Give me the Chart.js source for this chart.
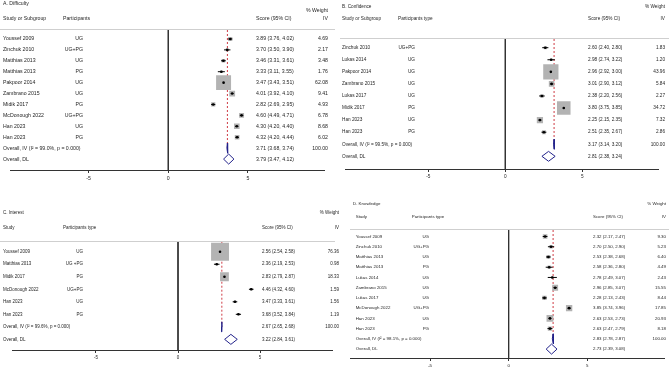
<!DOCTYPE html>
<html>
<head>
<meta charset="utf-8">
<script src="https://cdn.jsdelivr.net/npm/chart.js@4.4.1/dist/chart.umd.min.js"></script>
<style>
  html, body { margin: 0; padding: 0; background: #fff; }
  #wrap { position: relative; width: 669px; height: 368px; overflow: hidden; }
  #wrap canvas { position: absolute; }
</style>
</head>
<body>
<div id="wrap">
  <canvas id="pA" width="335" height="186" style="left:0;top:0"></canvas>
  <canvas id="pB" width="334" height="186" style="left:335px;top:0"></canvas>
  <canvas id="pC" width="345" height="173" style="left:0;top:195px"></canvas>
  <canvas id="pD" width="334" height="173" style="left:335px;top:195px"></canvas>
</div>
<script>
/* forest plots: difficulty / confidence / interest / knowledge */
const xTicks = [-5, 0, 5];

// A. Difficulty
const diffStudies = ['Youssef 2009', 'Zinchuk 2010', 'Matthias 2013', 'Matthias 2013', 'Pakpoor 2014', 'Zambrano 2015', 'Midik 2017', 'McDonough 2022', 'Han 2023', 'Han 2023'];
const diffGroups  = ['UG', 'UG+PG', 'UG', 'PG', 'UG', 'UG', 'PG', 'UG+PG', 'UG', 'PG'];
const diffScore   = [3.89, 3.70, 3.46, 3.33, 3.47, 4.01, 2.82, 4.60, 4.30, 4.32];
const diffLow     = [3.76, 3.50, 3.31, 3.11, 3.43, 3.92, 2.69, 4.49, 4.20, 4.20];
const diffHigh    = [4.02, 3.90, 3.61, 3.55, 3.51, 4.10, 2.95, 4.71, 4.40, 4.44];
const diffWeight  = [4.69, 2.17, 3.48, 1.76, 62.08, 9.41, 4.93, 6.78, 8.68, 6.02];
const diffIV = [3.71, 3.68, 3.74];
const diffDL = [3.79, 3.47, 4.12];
const diffI2 = '99.0%';

// B. Confidence
const confStudies = ['Zinchuk 2010', 'Lukas 2014', 'Pakpoor 2014', 'Zambrano 2015', 'Lukas 2017', 'Midik 2017', 'Han 2023', 'Han 2023'];
const confGroups  = ['UG+PG', 'UG', 'UG', 'UG', 'UG', 'PG', 'UG', 'PG'];
const confScore   = [2.60, 2.98, 2.96, 3.01, 2.38, 3.80, 2.25, 2.51];
const confLow     = [2.40, 2.74, 2.92, 2.90, 2.20, 3.75, 2.15, 2.35];
const confHigh    = [2.80, 3.22, 3.00, 3.12, 2.56, 3.85, 2.35, 2.67];
const confWeight  = [1.83, 1.20, 43.96, 5.84, 2.27, 34.72, 7.32, 2.86];
const confIV = [3.17, 3.14, 3.20];
const confDL = [2.81, 2.38, 3.24];
const confI2 = '99.5%';

// C. Interest
const intStudies = ['Youssef 2009', 'Matthias 2013', 'Midik 2017', 'McDonough 2022', 'Han 2023', 'Han 2023'];
const intGroups  = ['UG', 'UG +PG', 'PG', 'UG+PG', 'UG', 'PG'];
const intScore   = [2.56, 2.36, 2.83, 4.46, 3.47, 3.68];
const intLow     = [2.54, 2.19, 2.79, 4.32, 3.33, 3.52];
const intHigh    = [2.58, 2.53, 2.87, 4.60, 3.61, 3.84];
const intWeight  = [76.36, 0.98, 18.33, 1.59, 1.56, 1.19];
const intIV = [2.67, 2.65, 2.68];
const intDL = [3.22, 2.84, 3.61];
const intI2 = '99.6%';

// D. Knowledge
const knowStudies = ['Youssef 2009', 'Zinchuk 2010', 'Matthias 2013', 'Matthias 2013', 'Lukas 2014', 'Zambrano 2015', 'Lukas 2017', 'McDonough 2022', 'Han 2023', 'Han 2023'];
const knowGroups  = ['UG', 'UG+PG', 'UG', 'PG', 'UG', 'UG', 'UG', 'UG+PG', 'UG', 'PG'];
const knowScore   = [2.32, 2.70, 2.53, 2.58, 2.78, 2.96, 2.28, 3.85, 2.63, 2.63];
const knowLow     = [2.17, 2.50, 2.38, 2.36, 2.49, 2.85, 2.13, 3.74, 2.53, 2.47];
const knowHigh    = [2.47, 2.90, 2.68, 2.80, 3.07, 3.07, 2.43, 3.96, 2.73, 2.79];
const knowWeight  = [9.30, 5.23, 6.40, 4.49, 2.43, 15.55, 8.44, 17.85, 20.93, 8.18];
const knowIV = [2.83, 2.78, 2.87];
const knowDL = [2.73, 2.39, 3.08];
const knowI2 = '98.1%';

const FONT = '"Liberation Sans", Arial, sans-serif';
const INK = '#1f1f1f';

const fmt = (e, lo, hi) => e.toFixed(2) + ' (' + lo.toFixed(2) + ', ' + hi.toFixed(2) + ')';

function textPlugin(p) {
  return {
    id: 'forestText',
    afterDraw(chart) {
      const ctx = chart.ctx, ys = chart.scales.y, L = p.lay;
      ctx.save();
      ctx.fillStyle = INK;
      ctx.font = p.lay.fs + 'px ' + FONT;
      ctx.textBaseline = 'middle';
      const put = (s, x, y, align) => { ctx.textAlign = align || 'left'; ctx.fillText(s, x, y); };
      put(p.title, L.titleX, L.titleY);
      put('% Weight', L.wCol, L.wHdrY, 'right');
      put(p.studyHdr, L.sCol, L.hdrY);
      put(p.partHdr, L.pHdr, L.hdrY);
      put('Score (95% CI)', L.cCol, L.hdrY);
      put('IV', L.wCol, L.hdrY, 'right');
      // divider under headers
      ctx.strokeStyle = '#cfcfcf';
      ctx.lineWidth = 1;
      ctx.beginPath();
      ctx.moveTo(L.divX0, L.divY + 0.5);
      ctx.lineTo(L.divX1, L.divY + 0.5);
      ctx.stroke();
      const n = p.studies.length;
      p.studies.forEach((s, i) => {
        const y = ys.getPixelForValue(i);
        put(s, L.sCol, y);
        put(p.groups[i], L.pCol, y, 'right');
        put(fmt(p.score[i], p.low[i], p.high[i]), L.cCol, y);
        put(p.weight[i].toFixed(2), L.wCol, y, 'right');
      });
      let y = ys.getPixelForValue(n);
      put('Overall, IV (I\u00b2 = ' + p.i2 + ', p = 0.000)', L.sCol, y);
      put(fmt(p.iv[0], p.iv[1], p.iv[2]), L.cCol, y);
      put('100.00', L.wCol, y, 'right');
      y = ys.getPixelForValue(n + 1);
      put('Overall, DL', L.sCol, y);
      put(fmt(p.dl[0], p.dl[1], p.dl[2]), L.cCol, y);
      ctx.restore();
    }
  };
}

function makePanel(id, p) {
  const L = p.lay;
  const n = p.studies.length;
  const rowIV = n, rowDL = n + 1;

  const ciPts = [];
  p.low.forEach((lo, i) => { ciPts.push({ x: lo, y: i }, { x: p.high[i], y: i }, { x: p.high[i], y: null }); });
  const diamond = (v, r) => [
    { x: v[1], y: r }, { x: v[0], y: r - L.dh }, { x: v[2], y: r }, { x: v[0], y: r + L.dh }, { x: v[1], y: r }, { x: v[1], y: null }
  ];
  const lineStyle = { showLine: true, pointRadius: 0, borderWidth: 1, spanGaps: false, fill: false };

  return new Chart(document.getElementById(id), {
    type: 'scatter',
    data: {
      datasets: [
        { ...lineStyle, data: [{ x: 0, y: L.yMin }, { x: 0, y: L.yMax }], borderColor: '#333', order: 6 },
        { ...lineStyle, data: [{ x: p.iv[0], y: L.yMin }, { x: p.iv[0], y: rowIV }], borderColor: '#cf3c45', borderDash: [2, 2], order: 5 },
        { data: p.score.map((v, i) => ({ x: v, y: i })), pointStyle: 'rect', borderWidth: 0,
          pointRadius: p.weight.map(w => L.box * Math.sqrt(w) / Math.SQRT2),
          backgroundColor: '#b3b3b3', order: 4 },
        { ...lineStyle, data: ciPts, borderColor: '#000', order: 3 },
        { data: p.score.map((v, i) => ({ x: v, y: i })), pointRadius: 1.3, backgroundColor: '#000', borderWidth: 0, order: 2 },
        { ...lineStyle, data: diamond(p.iv, rowIV).concat(diamond(p.dl, rowDL)), borderColor: '#22228a', order: 1 },
      ]
    },
    options: {
      responsive: false,
      animation: false,
      events: [],
      layout: { padding: { top: L.top, left: L.padL, right: L.padR, bottom: 0 } },
      plugins: { legend: { display: false }, tooltip: { enabled: false } },
      scales: {
        x: {
          type: 'linear', min: L.xMin, max: L.xMax,
          afterBuildTicks: s => { s.ticks = xTicks.map(v => ({ value: v })); },
          afterFit: s => { s.height = L.axisH; },
          grid: { drawOnChartArea: false, drawTicks: true, tickLength: 3, color: '#333' },
          border: { color: '#333', width: 1 },
          ticks: { color: INK, font: { family: FONT, size: L.fs }, padding: 2, maxRotation: 0, autoSkip: false }
        },
        y: { type: 'linear', display: false, reverse: true, min: L.yMin, max: L.yMax }
      }
    },
    plugins: [textPlugin(p)]
  });
}

makePanel('pA', {
  title: 'A. Difficulty', studyHdr: 'Study or Subgroup', partHdr: 'Participants',
  studies: diffStudies, groups: diffGroups, score: diffScore, low: diffLow, high: diffHigh, weight: diffWeight,
  iv: diffIV, dl: diffDL, i2: diffI2,
  lay: { top: 30, axisH: 16, padL: 2, padR: 2, xMin: -9.9, xMax: 9.8, yMin: -0.82, yMax: 12, box: 1.9, dh: 0.46, fs: 5.2,
         titleX: 3, titleY: 4, wHdrY: 11, hdrY: 18.5, sCol: 3, pHdr: 63, pCol: 83, cCol: 256, wCol: 328, divX0: 0, divX1: 335, divY: 29 }
});

makePanel('pB', {
  title: 'B. Confidence', studyHdr: 'Study or Subgroup', partHdr: 'Participants type',
  studies: confStudies, groups: confGroups, score: confScore, low: confLow, high: confHigh, weight: confWeight,
  iv: confIV, dl: confDL, i2: confI2,
  lay: { top: 39, axisH: 17, padL: 0, padR: 1, xMin: -10.37, xMax: 9.94, yMin: -0.72, yMax: 10.05, box: 2.3, dh: 0.41, fs: 4.7,
         titleX: 7, titleY: 7, wHdrY: 7, hdrY: 19, sCol: 7, pHdr: 63, pCol: 80, cCol: 253, wCol: 330, divX0: 5, divX1: 334, divY: 38 }
});

makePanel('pC', {
  title: 'C. Interest', studyHdr: 'Study', partHdr: 'Participants type',
  studies: intStudies, groups: intGroups, score: intScore, low: intLow, high: intHigh, weight: intWeight,
  iv: intIV, dl: intDL, i2: intI2,
  lay: { top: 46.7, axisH: 18, padL: 0, padR: 10, xMin: -10.07, xMax: 9.4, yMin: -0.8, yMax: 7.85, box: 2.05, dh: 0.4, fs: 4.5,
         titleX: 3, titleY: 18, wHdrY: 18, hdrY: 33, sCol: 3, pHdr: 63, pCol: 83, cCol: 262, wCol: 339, divX0: 0, divX1: 335, divY: 46 }
});

makePanel('pD', {
  title: 'D. Knowledge', studyHdr: 'Study', partHdr: 'Participants type',
  studies: knowStudies, groups: knowGroups, score: knowScore, low: knowLow, high: knowHigh, weight: knowWeight,
  iv: knowIV, dl: knowDL, i2: knowI2,
  lay: { top: 35, axisH: 10, padL: 15, padR: 1, xMin: -10.1, xMax: 9.9, yMin: -0.635, yMax: 11.87, box: 1.5, dh: 0.49, fs: 4.4,
         titleX: 18, titleY: 9, wHdrY: 9, hdrY: 22, sCol: 20.7, pHdr: 76.7, pCol: 94, cCol: 258, wCol: 331, divX0: 15, divX1: 334, divY: 34 }
});
</script>
</body>
</html>
